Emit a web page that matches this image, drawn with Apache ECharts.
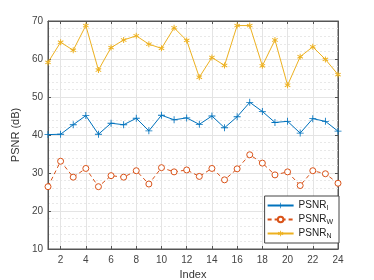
<!DOCTYPE html>
<html><head><meta charset="utf-8">
<script src="https://cdn.jsdelivr.net/npm/echarts@6/dist/echarts.min.js"></script>
<style>html,body{margin:0;padding:0;background:#fff}#c{width:374px;height:280px}</style>
</head><body><div id="c"></div>
<script>
const indices = [1,2,3,4,5,6,7,8,9,10,11,12,13,14,15,16,17,18,19,20,21,22,23,24];
const psnrI = [40.1,40.2,42.7,45.1,40.2,43.1,42.7,44.4,41.1,45.2,44.0,44.5,42.8,45.0,41.9,44.8,48.6,46.2,43.3,43.6,40.5,44.3,43.6,41.0];
const psnrW = [26.4,33.1,28.9,31.2,26.4,29.3,28.9,30.6,27.1,31.4,30.3,30.8,29.1,31.2,28.2,31.1,34.8,32.6,29.5,30.3,26.7,30.6,29.8,27.3];
const psnrN = [59.1,64.4,62.3,68.8,57.1,63.0,65.0,66.1,63.9,62.8,68.2,64.9,55.2,60.4,58.3,68.8,68.8,58.2,65.0,53.1,60.6,63.2,59.9,55.9];
const xTicks = [2,4,6,8,10,12,14,16,18,20,22,24];
const yTicks = [10,20,30,40,50,60,70];

const font = 'Liberation Sans, Arial, sans-serif';
const axisCol = '#555';
const plusPath = 'path://M4.4,0 L5.6,0 L5.6,4.4 L10,4.4 L10,5.6 L5.6,5.6 L5.6,10 L4.4,10 L4.4,5.6 L0,5.6 L0,4.4 L4.4,4.4 Z';
const starPath = 'path://M4.3,0 L5.7,0 L5.7,3.3 L8.6,1.6 L9.3,2.8 L6.4,4.5 L9.3,6.2 L8.6,7.4 L5.7,5.7 L5.7,9 L4.3,9 L4.3,5.7 L1.4,7.4 L0.7,6.2 L3.6,4.5 L0.7,2.8 L1.4,1.6 L4.3,3.3 Z';

const mk = a => a.map((v,i)=>[indices[i], v]);
const chart = echarts.init(document.getElementById('c'), null, {renderer:'canvas'});
const rich = {a:{fontFamily:font,fontSize:10,color:'#222'}, s:{fontFamily:font,fontSize:7,color:'#222',padding:[6,0,0,0]}};
chart.setOption({
  animation:false,
  backgroundColor:'#fff',
  grid:{left:48,right:36,top:21,bottom:31,show:true,borderColor:axisCol,borderWidth:1,outerBoundsMode:'none',containLabel:false},
  legend:{
    right:35, top:196, orient:'vertical', itemWidth:26, itemHeight:7, itemGap:1,
    backgroundColor:'#fff', borderColor:'#444', borderWidth:1, borderRadius:0, padding:[3,6,3,2],
    data:['I','W','N'],
    formatter: n => '{a|PSNR}{s|'+n+'}',
    textStyle:{rich:rich, lineHeight:13}
  },
  xAxis:[{
    type:'value', min:1, max:24, position:'bottom',
    name:'Index', nameLocation:'middle', nameGap:20,
    nameTextStyle:{fontFamily:font,fontSize:11,color:'#333'},
    axisLine:{show:true,lineStyle:{color:axisCol}},
    axisTick:{show:true,inside:true,length:3,customValues:xTicks,lineStyle:{color:axisCol}},
    axisLabel:{customValues:xTicks,fontFamily:font,fontSize:10,color:'#444',margin:6},
    splitLine:{show:true,lineStyle:{color:'#e4e4e4',width:1}}
  },{
    type:'value', min:1, max:24, position:'top',
    axisLine:{show:true,lineStyle:{color:axisCol}},
    axisTick:{show:true,inside:true,length:3,customValues:xTicks,lineStyle:{color:axisCol}},
    axisLabel:{show:false}, splitLine:{show:false}
  }],
  yAxis:[{
    type:'value', min:10, max:70, interval:10, position:'left',
    name:'PSNR (dB)', nameLocation:'middle', nameGap:24,
    nameTextStyle:{fontFamily:font,fontSize:11,color:'#333'},
    axisLine:{show:true,lineStyle:{color:axisCol}},
    axisTick:{show:true,inside:true,length:3,lineStyle:{color:axisCol}},
    axisLabel:{fontFamily:font,fontSize:10,color:'#444',margin:5},
    splitLine:{show:true,lineStyle:{color:'#e4e4e4',width:1}},
    minorTick:{show:false,splitNumber:5},
    minorSplitLine:{show:true,lineStyle:{color:'#e8e8e8',type:[2,2],width:1}}
  },{
    type:'value', min:10, max:70, interval:10, position:'right',
    axisLine:{show:true,lineStyle:{color:axisCol}},
    axisTick:{show:true,inside:true,length:3,lineStyle:{color:axisCol}},
    axisLabel:{show:false}, splitLine:{show:false}
  }],
  series:[
    {name:'I', type:'line', data:mk(psnrI), color:'#0072BD',
     lineStyle:{width:1,type:'solid',color:'#0072BD'}, symbol:plusPath, symbolSize:7, showSymbol:true,
     itemStyle:{color:'#0072BD'}},
    {name:'W', type:'line', data:mk(psnrW), color:'#D95319',
     lineStyle:{width:1,type:[4,3],color:'#D95319'}, symbol:'circle', symbolSize:6,
     itemStyle:{color:'#fff',borderColor:'#D95319',borderWidth:1}},
    {name:'N', type:'line', data:mk(psnrN), color:'#EDB120',
     lineStyle:{width:1,type:'solid',color:'#EDB120'}, symbol:starPath, symbolSize:6,
     itemStyle:{color:'#EDB120'}}
  ]
});
</script></body></html>
